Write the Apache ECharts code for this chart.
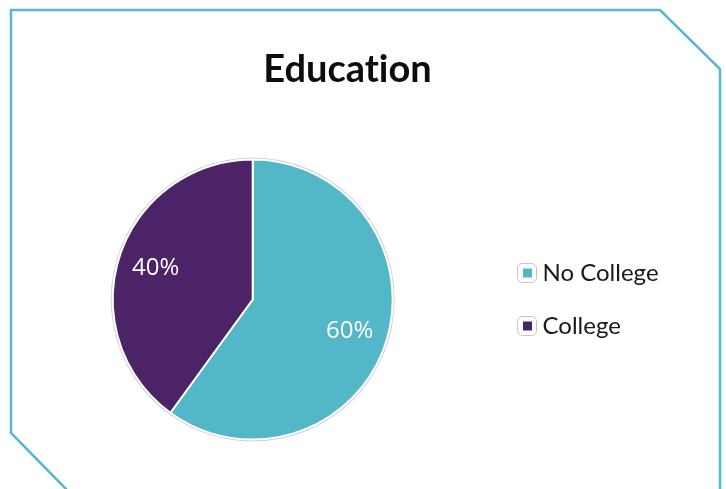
<!DOCTYPE html>
<html>
<head>
<meta charset="utf-8">
<script src="https://cdn.jsdelivr.net/npm/echarts@6/dist/echarts.min.js"></script>
<style>
  html, body { margin: 0; padding: 0; background: #ffffff; }
  #chart { width: 726px; height: 489px; }
</style>
</head>
<body>
<div id="chart"></div>
<script>
// Education breakdown (percent of respondents)
const categories = ['No College', 'College'];
const shares = [60, 40];
const colors = ['#53B7C8', '#4C2366'];
// zero-width non-joiner keeps the "ti" pair from forming a ligature
const titleText = 'Educat\u200Cion';

const pieCenter = [252.7, 299.5];
const pieData = categories.map((name, i) => ({
  name: name,
  value: shares[i],
  itemStyle: { color: colors[i] }
}));

const chart = echarts.init(document.getElementById('chart'), null, { renderer: 'canvas' });

chart.setOption({
  backgroundColor: '#ffffff',
  animation: false,
  title: {
    text: titleText,
    left: 347.5,
    top: 51,
    textAlign: 'center',
    padding: 0,
    textStyle: {
      fontFamily: 'Lato',
      fontWeight: 'bold',
      fontSize: 38,
      color: '#0d0d0d'
    }
  },
  legend: [
    {
      // framed white swatch behind each entry
      data: categories,
      orient: 'vertical',
      left: 517,
      top: 261,
      padding: 0,
      itemGap: 29,
      itemWidth: 19,
      itemHeight: 19,
      icon: 'roundRect',
      selectedMode: false,
      itemStyle: { color: '#ffffff', borderColor: '#c4c4c4', borderWidth: 1 },
      textStyle: { fontFamily: 'Lato', fontSize: 24, color: '#1a1a1a', padding: [0, 0, 0, 1] }
    },
    {
      // coloured square inside each frame
      data: categories,
      orient: 'vertical',
      left: 521,
      top: 261,
      padding: 0,
      itemGap: 29,
      itemWidth: 11,
      itemHeight: 11,
      icon: 'rect',
      selectedMode: false,
      textStyle: { fontFamily: 'Lato', fontSize: 24, color: 'rgba(0,0,0,0)' }
    }
  ],
  series: [
    {
      // faint outline ring around the pie
      type: 'pie',
      name: 'ring',
      silent: true,
      center: pieCenter,
      radius: [0, 142],
      label: { show: false },
      labelLine: { show: false },
      itemStyle: { color: '#d2d2d2' },
      data: [{ name: 'ring', value: 1 }],
      z: 1
    },
    {
      type: 'pie',
      name: 'Education',
      silent: true,
      center: pieCenter,
      radius: [0, 140],
      startAngle: 90,
      clockwise: true,
      label: { show: false },
      labelLine: { show: false },
      itemStyle: { borderColor: '#ffffff', borderWidth: 2 },
      data: pieData,
      z: 2
    },
    {
      // invisible copy that places the percentage labels further out
      type: 'pie',
      name: 'labels',
      silent: true,
      center: pieCenter,
      radius: [0, 198],
      startAngle: 90,
      clockwise: true,
      itemStyle: { color: 'rgba(0,0,0,0)' },
      label: {
        show: true,
        position: 'inside',
        formatter: (p) => p.value + '%',
        fontFamily: 'Open Sans',
        fontSize: 24,
        color: '#ffffff'
      },
      labelLine: { show: false },
      data: categories.map((name, i) => ({ name: name, value: shares[i] })),
      z: 3
    }
  ],
  graphic: [
    {
      type: 'polyline',
      silent: true,
      shape: {
        points: [[67, 490], [11, 433], [11, 10], [660, 10], [720, 69], [720, 490]]
      },
      style: { stroke: '#56B9C9', lineWidth: 2.5, fill: null },
      z: 10
    }
  ]
});
</script>
</body>
</html>
